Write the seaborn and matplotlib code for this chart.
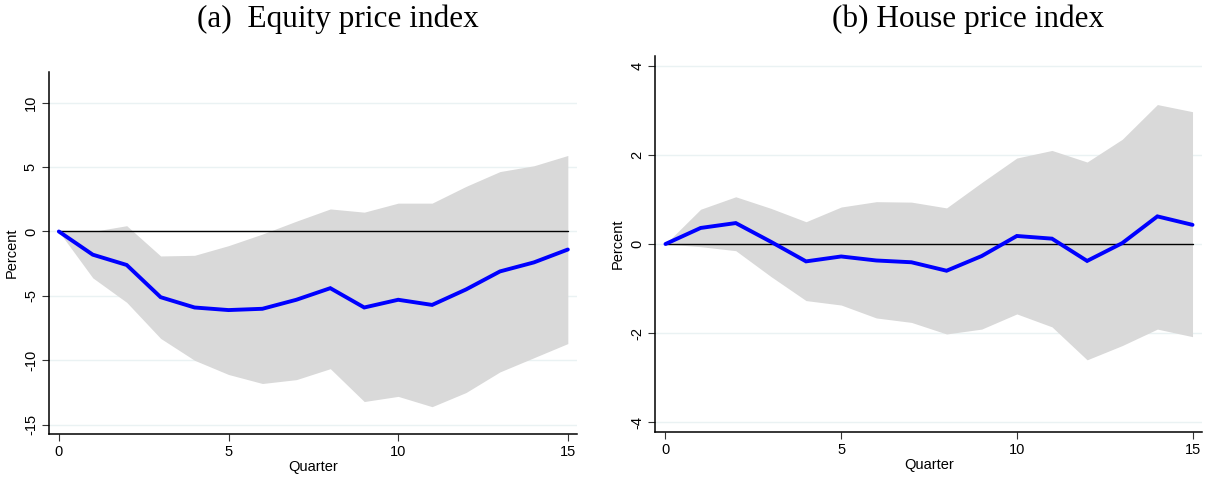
import numpy as np
import pandas as pd
import matplotlib
matplotlib.use("Agg")
import matplotlib.pyplot as plt
import seaborn as sns

quarters = list(range(16))

equity_mean = [0, -1.8, -2.6, -5.1, -5.9, -6.1, -6.0, -5.3, -4.4, -5.9, -5.3, -5.7, -4.5, -3.1, -2.4, -1.4]
equity_upper = [0, 0.0, 0.45, -1.9, -1.85, -1.1, -0.2, 0.8, 1.75, 1.5, 2.2, 2.2, 3.5, 4.65, 5.1, 5.9]
equity_lower = [0, -3.6, -5.5, -8.3, -10.0, -11.1, -11.8, -11.5, -10.65, -13.2, -12.8, -13.6, -12.5, -10.9, -9.8, -8.7]

house_mean = [0, 0.36, 0.47, 0.05, -0.39, -0.28, -0.37, -0.41, -0.60, -0.27, 0.18, 0.12, -0.38, 0.02, 0.62, 0.43]
house_upper = [0, 0.78, 1.06, 0.80, 0.50, 0.83, 0.95, 0.94, 0.81, 1.38, 1.93, 2.10, 1.84, 2.35, 3.13, 2.97]
house_lower = [0, -0.06, -0.15, -0.73, -1.27, -1.37, -1.66, -1.76, -2.02, -1.91, -1.57, -1.86, -2.60, -2.28, -1.91, -2.08]

titles = ["(a)  Equity price index", "(b) House price index"]
xticks = [0, 5, 10, 15]
yticks_a = [-15, -10, -5, 0, 5, 10]
yticks_b = [-4, -2, 0, 2, 4]

sns.set_style("white")
plt.rcParams['font.family'] = ['Liberation Sans', 'DejaVu Sans']
plt.rcParams['text.color'] = 'black'
plt.rcParams['axes.labelcolor'] = 'black'
plt.rcParams['xtick.color'] = 'black'
plt.rcParams['ytick.color'] = 'black'

W, H = 1207, 479
fig = plt.figure(figsize=(W / 100, H / 100), dpi=100)

ax1 = fig.add_axes([49 / W, 1 - 434 / H, (577 - 49) / W, (434 - 72) / H])
ax2 = fig.add_axes([655.3 / W, 1 - 432 / H, (1202 - 655.3) / W, (432 - 56) / H])

panels = [
    (ax1, equity_mean, equity_upper, equity_lower, yticks_a, (-15.72, 12.38)),
    (ax2, house_mean, house_upper, house_lower, yticks_b, (-4.22, 4.22)),
]

for ax, mean, up, lo, yt, ylim in panels:
    df = pd.DataFrame({"Quarter": quarters, "Percent": mean})
    for t in yt:
        ax.axhline(t, color="#eaf2f3", lw=1.0, zorder=0)
    ax.fill_between(quarters, lo, up, color="#d9d9d9", lw=0, zorder=1)
    ax.plot(quarters, [0] * len(quarters), color="black", lw=1.0, zorder=2)
    sns.lineplot(data=df, x="Quarter", y="Percent", ax=ax, color="#0000ff",
                 lw=2.8, zorder=3, solid_joinstyle="miter")
    ax.set_xlim(-0.29, 15.27)
    ax.set_ylim(*ylim)
    ax.set_xticks(xticks)
    ax.set_yticks(yt)
    ax.set_yticklabels([str(t) for t in yt], rotation=90, va="center")
    ax.tick_params(axis="both", which="major", length=5, width=0.8, color="#333333",
                   labelcolor="black", labelsize=10.5, direction="out", pad=3)
    ax.tick_params(axis="y", left=True)
    ax.tick_params(axis="x", bottom=True)
    for s in ["top", "right"]:
        ax.spines[s].set_visible(False)
    for s in ["left", "bottom"]:
        ax.spines[s].set_color("black")
        ax.spines[s].set_linewidth(1.1)
    ax.set_xlabel("Quarter", fontsize=10.5, labelpad=1, color="black")
    ax.set_ylabel("Percent", fontsize=10.5, labelpad=4, color="black")
    ax.grid(False)

fig.text(338 / W, 1 - 19 / H, titles[0], ha="center", va="center",
         fontsize=22.5, family="Liberation Serif", color="black")
fig.text(968 / W, 1 - 19 / H, titles[1], ha="center", va="center",
         fontsize=22.5, family="Liberation Serif", color="black")

fig.savefig("out.png", dpi=100)
